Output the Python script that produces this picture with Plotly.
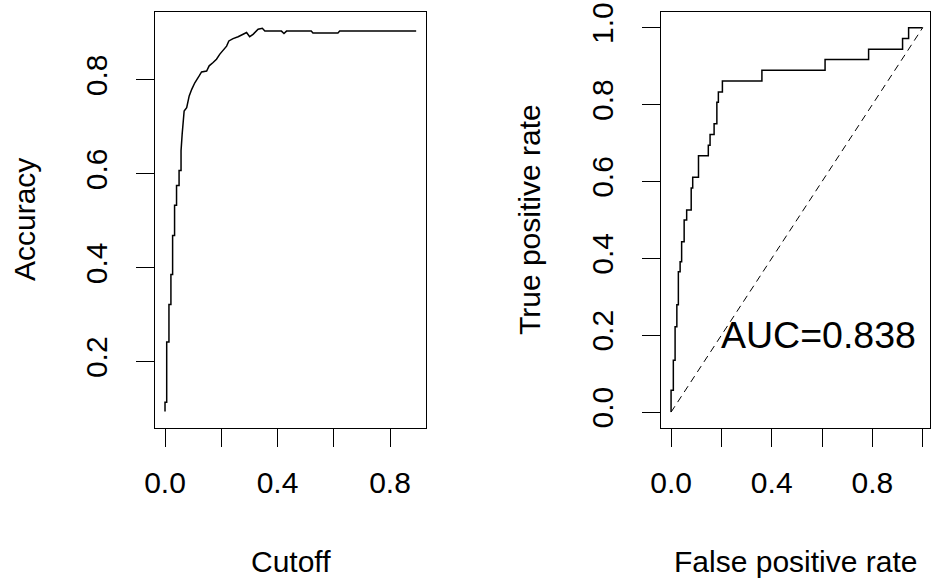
"""Accuracy vs cutoff and ROC curve, side by side (R base-graphics look)."""

import plotly.graph_objects as go

# Left panel: accuracy by cutoff
cutoff = [0.000, 0.000, 0.006, 0.006, 0.014, 0.014, 0.021, 0.021, 0.027, 0.027,
          0.034, 0.034, 0.041, 0.041, 0.050, 0.050, 0.057, 0.057, 0.061, 0.068,
          0.077, 0.086, 0.095, 0.106, 0.122, 0.130, 0.148, 0.157, 0.171, 0.183,
          0.195, 0.205, 0.219, 0.227, 0.242, 0.260, 0.278, 0.290, 0.301, 0.313,
          0.331, 0.346, 0.355, 0.414, 0.423, 0.432, 0.520, 0.526, 0.615, 0.621,
          0.893]
accuracy = [0.094, 0.114, 0.114, 0.242, 0.242, 0.322, 0.322, 0.386, 0.386, 0.469,
            0.469, 0.533, 0.533, 0.575, 0.575, 0.607, 0.607, 0.649, 0.685, 0.734,
            0.741, 0.766, 0.780, 0.794, 0.809, 0.817, 0.819, 0.830, 0.837, 0.844,
            0.855, 0.863, 0.872, 0.883, 0.888, 0.892, 0.897, 0.901, 0.892, 0.897,
            0.908, 0.910, 0.904, 0.904, 0.899, 0.904, 0.904, 0.900, 0.900, 0.904,
            0.904]

# Right panel: ROC curve (fpr of each rise, tpr at its top)
fpr = [0.000, 0.000, 0.009, 0.016, 0.023, 0.029, 0.036, 0.042, 0.052, 0.062,
       0.080, 0.086, 0.109, 0.148, 0.155, 0.171, 0.182, 0.188, 0.204, 0.361,
       0.612, 0.785, 0.920, 0.944, 1.000]
tpr = [0.000, 0.057, 0.135, 0.222, 0.279, 0.365, 0.391, 0.443, 0.500, 0.526,
       0.583, 0.611, 0.667, 0.694, 0.722, 0.750, 0.806, 0.833, 0.861, 0.889,
       0.917, 0.944, 0.972, 1.000, 1.000]
chance = [0, 1]
auc_label = "AUC=0.838"

FONT = "Liberation Sans, Arial, sans-serif"
INK = "#000000"
W, H = 933, 583


def px_x(px):
    return px / W


def px_y(py):
    return 1 - py / H


fig = go.Figure()

fig.add_trace(go.Scatter(
    x=cutoff, y=accuracy, mode="lines",
    line=dict(color=INK, width=1.5),
    xaxis="x", yaxis="y", showlegend=False,
))

fig.add_trace(go.Scatter(
    x=fpr, y=tpr, mode="lines", line_shape="hv",
    line=dict(color=INK, width=1.5),
    xaxis="x2", yaxis="y2", showlegend=False,
))

fig.add_trace(go.Scatter(
    x=chance, y=chance, mode="lines",
    line=dict(color=INK, width=1, dash="7px,5px"),
    xaxis="x2", yaxis="y2", showlegend=False,
))

axis_common = dict(
    showline=True, mirror=True, linecolor=INK, linewidth=1.3,
    showgrid=False, zeroline=False, automargin=False,
    ticks="outside", ticklen=18, tickwidth=1.3, tickcolor=INK,
    ticklabeloverflow="allow",
    tickfont=dict(family=FONT, size=30, color=INK),
)
x_common = dict(axis_common, ticklabelstandoff=10)
y_common = dict(axis_common, ticklabelstandoff=17, tickangle=-90)

ydom = [px_y(427.5), px_y(12.3)]

fig.update_layout(
    width=W, height=H,
    margin=dict(l=0, r=0, t=0, b=0, autoexpand=False),
    paper_bgcolor="white", plot_bgcolor="white",
    showlegend=False,
    xaxis=dict(
        x_common, domain=[px_x(155), px_x(426)], range=[-0.0356, 0.928],
        tickvals=[0, 0.2, 0.4, 0.6, 0.8],
        ticktext=["0.0", "", "0.4", "", "0.8"],
        anchor="y",
    ),
    yaxis=dict(
        y_common, domain=ydom, range=[0.060, 0.944],
        tickvals=[0.2, 0.4, 0.6, 0.8],
        ticktext=["0.2", "0.4", "0.6", "0.8"],
        anchor="x",
    ),
    xaxis2=dict(
        x_common, domain=[px_x(661), px_x(930)], range=[-0.04, 1.029],
        tickvals=[0, 0.2, 0.4, 0.6, 0.8, 1.0],
        ticktext=["0.0", "", "0.4", "", "0.8", ""],
        anchor="y2",
    ),
    yaxis2=dict(
        y_common, domain=ydom, range=[-0.04, 1.04],
        tickvals=[0, 0.2, 0.4, 0.6, 0.8, 1.0],
        ticktext=["0.0", "0.2", "0.4", "0.6", "0.8", "1.0"],
        anchor="x2",
    ),
    annotations=[
        dict(text="Cutoff", xref="paper", yref="paper",
             x=px_x(290.5), y=px_y(561), showarrow=False,
             xanchor="center", yanchor="middle",
             font=dict(family=FONT, size=30, color=INK)),
        dict(text="Accuracy", xref="paper", yref="paper",
             x=px_x(24), y=px_y(220), showarrow=False, textangle=-90,
             xanchor="center", yanchor="middle",
             font=dict(family=FONT, size=30, color=INK)),
        dict(text="False positive rate", xref="paper", yref="paper",
             x=px_x(795.5), y=px_y(561), showarrow=False,
             xanchor="center", yanchor="middle",
             font=dict(family=FONT, size=30, color=INK)),
        dict(text="True positive rate", xref="paper", yref="paper",
             x=px_x(529), y=px_y(220), showarrow=False, textangle=-90,
             xanchor="center", yanchor="middle",
             font=dict(family=FONT, size=30, color=INK)),
        dict(text=auc_label, xref="x2", yref="y2",
             x=0.587, y=0.2, showarrow=False,
             xanchor="center", yanchor="middle",
             font=dict(family=FONT, size=37.5, color=INK)),
    ],
)

# drop the page's default body margin so the figure sits at the window corner
fig.write_html(
    "out.html",
    config={"displayModeBar": False},
    post_script="document.body.style.margin = '0px';",
)
